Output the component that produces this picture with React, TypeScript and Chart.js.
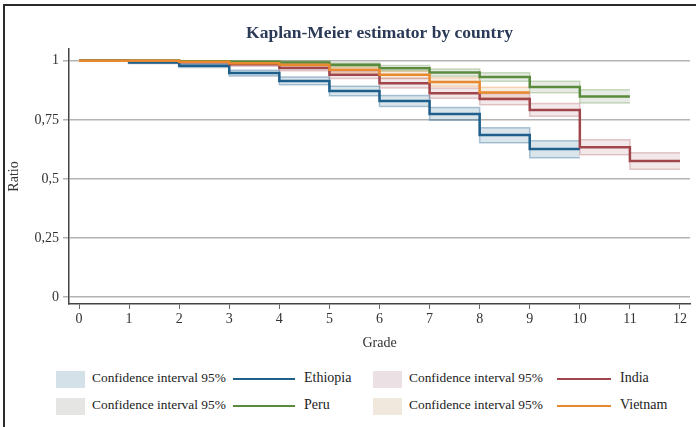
import React, { useEffect, useRef } from 'react';
import { Chart, registerables } from 'chart.js';

Chart.register(...registerables);

const TITLE = 'Kaplan-Meier estimator by country';
const X_TITLE = 'Grade';
const Y_TITLE = 'Ratio';
const CI_LABEL = 'Confidence interval 95%';

const GRADES = [0, 1, 2, 3, 4, 5, 6, 7, 8, 9, 10, 11, 12];
const Y_TICKS = [0, 0.25, 0.5, 0.75, 1];
const Y_TICK_LABELS = ['0', '0,25', '0,5', '0,75', '1'];

const COUNTRIES = ['Ethiopia', 'India', 'Peru', 'Vietnam'];

// value of each interval [grade i, grade i+1)
const ETHIOPIA_EST = [1, 0.993, 0.979, 0.948, 0.915, 0.872, 0.83, 0.775, 0.686, 0.626];
const ETHIOPIA_LO = [1, 0.989, 0.972, 0.936, 0.899, 0.852, 0.807, 0.748, 0.653, 0.589];
const ETHIOPIA_HI = [1, 0.997, 0.986, 0.96, 0.931, 0.892, 0.853, 0.802, 0.716, 0.661];

const INDIA_EST = [1, 1, 0.995, 0.985, 0.97, 0.941, 0.905, 0.863, 0.838, 0.792, 0.634, 0.576];
const INDIA_LO = [1, 0.998, 0.99, 0.977, 0.958, 0.925, 0.885, 0.841, 0.814, 0.765, 0.602, 0.541];
const INDIA_HI = [1, 1, 1, 0.993, 0.982, 0.957, 0.925, 0.885, 0.862, 0.819, 0.666, 0.611];

const PERU_EST = [1, 1, 0.998, 0.996, 0.993, 0.983, 0.969, 0.95, 0.931, 0.889, 0.849];
const PERU_LO = [1, 0.998, 0.995, 0.991, 0.987, 0.975, 0.958, 0.935, 0.913, 0.865, 0.821];
const PERU_HI = [1, 1, 1, 1, 0.999, 0.991, 0.98, 0.965, 0.949, 0.913, 0.877];

const VIETNAM_EST = [1, 1, 0.996, 0.99, 0.983, 0.962, 0.941, 0.91, 0.866];
const VIETNAM_LO = [1, 0.998, 0.992, 0.984, 0.975, 0.95, 0.926, 0.892, 0.844];
const VIETNAM_HI = [1, 1, 1, 0.996, 0.991, 0.974, 0.956, 0.928, 0.888];

const LINE_COLORS = ['#1f5f8b', '#a0454c', '#5a8a3c', '#e8892f'];
const BAND_FILLS = ['rgba(31,95,139,0.17)', 'rgba(160,69,76,0.12)', 'rgba(110,125,100,0.16)', 'rgba(200,150,90,0.17)'];
const BAND_EDGES = ['rgba(31,95,139,0.35)', 'rgba(160,69,76,0.28)', 'rgba(90,138,60,0.3)', 'rgba(232,137,47,0.3)'];
const SWATCHES = ['#d5e1e9', '#ebe1e4', '#e5e5e3', '#f0e8dc'];

const SERIES = [
  { est: ETHIOPIA_EST, lo: ETHIOPIA_LO, hi: ETHIOPIA_HI },
  { est: INDIA_EST, lo: INDIA_LO, hi: INDIA_HI },
  { est: PERU_EST, lo: PERU_LO, hi: PERU_HI },
  { est: VIETNAM_EST, lo: VIETNAM_LO, hi: VIETNAM_HI },
];

const FONT = '"Liberation Serif", "DejaVu Serif", serif';

function steps(values: number[]) {
  const pts = values.map((v, i) => ({ x: GRADES[i], y: v }));
  pts.push({ x: GRADES[values.length], y: values[values.length - 1] });
  return pts;
}

const titlePlugin = {
  id: 'centerTitle',
  afterDraw(chart: any) {
    const { ctx, chartArea } = chart;
    ctx.save();
    ctx.font = 'bold 17.5px ' + FONT;
    ctx.fillStyle = '#2b3a57';
    ctx.textAlign = 'center';
    ctx.textBaseline = 'middle';
    ctx.fillText(TITLE, (chartArea.left + chartArea.right) / 2, 27);
    ctx.restore();
  },
};

export default function App() {
  const ref = useRef<HTMLCanvasElement>(null);

  useEffect(() => {
    if (!ref.current) return;
    const datasets: any[] = [];
    SERIES.forEach((s, i) => {
      datasets.push({
        label: CI_LABEL + ' lo ' + COUNTRIES[i],
        data: steps(s.lo),
        stepped: true,
        borderColor: BAND_EDGES[i],
        borderWidth: 1.5,
        pointRadius: 0,
        fill: false,
        order: 20,
      });
      datasets.push({
        label: CI_LABEL + ' ' + COUNTRIES[i],
        data: steps(s.hi),
        stepped: true,
        borderColor: BAND_EDGES[i],
        borderWidth: 1.5,
        backgroundColor: BAND_FILLS[i],
        pointRadius: 0,
        fill: '-1',
        order: 20,
      });
    });
    SERIES.forEach((s, i) => {
      datasets.push({
        label: COUNTRIES[i],
        data: steps(s.est),
        stepped: true,
        borderColor: LINE_COLORS[i],
        borderWidth: 2.5,
        pointRadius: 0,
        fill: false,
        order: 3 - i,
      });
    });

    const chart = new Chart(ref.current, {
      type: 'line',
      data: { datasets },
      plugins: [titlePlugin],
      options: {
        responsive: false,
        animation: false,
        layout: { padding: { top: 43, right: 6, left: 0, bottom: 0 } },
        plugins: { legend: { display: false }, tooltip: { enabled: false }, title: { display: false } },
        scales: {
          x: {
            type: 'linear',
            min: -0.2,
            max: 12.2,
            afterBuildTicks: (scale: any) => {
              scale.ticks = GRADES.map((v) => ({ value: v }));
            },
            afterFit: (scale: any) => {
              scale.height = 57;
            },
            ticks: {
              color: '#333',
              font: { family: FONT, size: 14 },
              padding: 2,
              maxRotation: 0,
              autoSkip: false,
            },
            grid: { drawOnChartArea: false, drawTicks: true, tickLength: 5, color: '#666', lineWidth: 1 },
            border: { display: true, color: '#444', width: 1.5 },
            title: {
              display: true,
              text: X_TITLE,
              color: '#333',
              font: { family: FONT, size: 14 },
              padding: { top: 0, bottom: 9 },
            },
          },
          y: {
            type: 'linear',
            min: -0.03,
            max: 1.05,
            afterBuildTicks: (scale: any) => {
              scale.ticks = Y_TICKS.map((v) => ({ value: v }));
            },
            afterFit: (scale: any) => {
              scale.width = 63;
            },
            ticks: {
              color: '#333',
              font: { family: FONT, size: 14 },
              padding: 4,
              callback: (v: any) => Y_TICK_LABELS[Y_TICKS.indexOf(v)],
            },
            grid: { drawOnChartArea: true, drawTicks: true, tickLength: 6, color: '#b3b3b3', lineWidth: 1.5 },
            border: { display: true, color: '#444', width: 1.5 },
            title: {
              display: true,
              text: Y_TITLE,
              color: '#333',
              font: { family: FONT, size: 14 },
              padding: { top: 0, bottom: 12 },
            },
          },
        },
      },
    });
    return () => chart.destroy();
  }, []);

  const col1 = [56, 92, 233, 304];
  const col2 = [373, 409, 557, 620];
  const rows = [379, 406];
  const legendItems = [
    { c: 0, r: 0, col: col1 },
    { c: 1, r: 0, col: col2 },
    { c: 2, r: 1, col: col1 },
    { c: 3, r: 1, col: col2 },
  ];

  return (
    <div style={{ position: 'fixed', left: 0, top: 0, width: 696, height: 427, background: '#fff', overflow: 'hidden' }}>
      <div
        style={{
          position: 'absolute',
          left: 3,
          top: 4,
          right: 0,
          bottom: 0,
          borderLeft: '2px solid #2a2a2a',
          borderTop: '2px solid #2a2a2a',
        }}
      />
      <canvas ref={ref} width={690} height={355} style={{ position: 'absolute', left: 6, top: 6, width: 690, height: 355 }} />
      {legendItems.map((it) => (
        <React.Fragment key={it.c}>
          <div
            style={{
              position: 'absolute',
              left: it.col[0],
              top: rows[it.r] - 8.5,
              width: 29,
              height: 17,
              background: SWATCHES[it.c],
            }}
          />
          <div
            style={{
              position: 'absolute',
              left: it.col[1],
              top: rows[it.r] - 9,
              height: 18,
              lineHeight: '18px',
              font: '13.4px ' + FONT,
              color: '#222',
              whiteSpace: 'nowrap',
            }}
          >
            {CI_LABEL}
          </div>
          <div
            style={{
              position: 'absolute',
              left: it.col[2],
              top: rows[it.r] - 1.25,
              width: it.col[3] - it.col[2] - 9,
              height: 2.5,
              background: LINE_COLORS[it.c],
            }}
          />
          <div
            style={{
              position: 'absolute',
              left: it.col[3],
              top: rows[it.r] - 9,
              height: 18,
              lineHeight: '18px',
              font: '14px ' + FONT,
              color: '#222',
              whiteSpace: 'nowrap',
            }}
          >
            {COUNTRIES[it.c]}
          </div>
        </React.Fragment>
      ))}
    </div>
  );
}
